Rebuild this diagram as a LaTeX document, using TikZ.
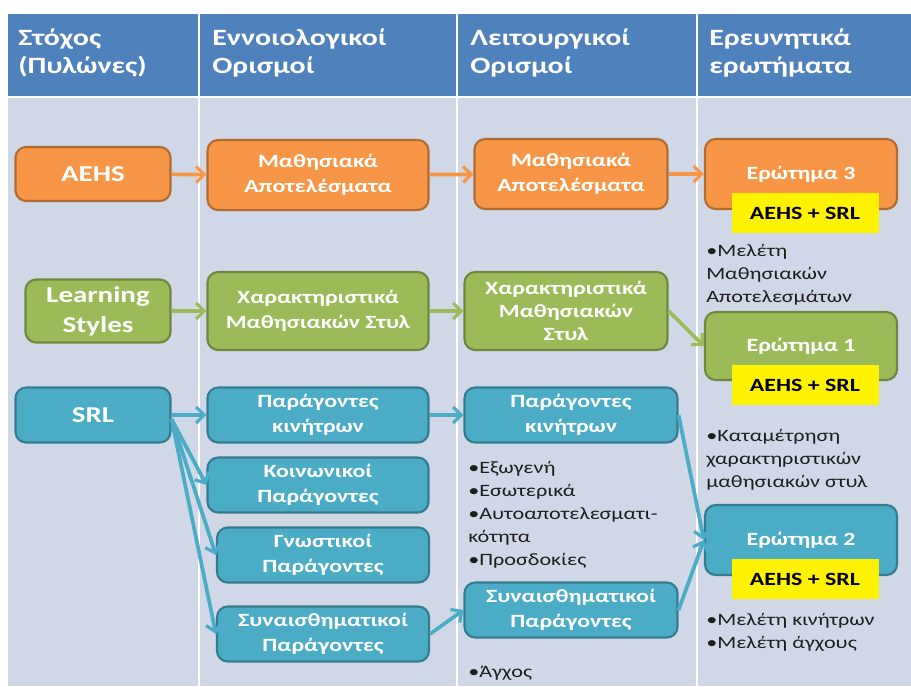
\documentclass[tikz,border=0pt]{standalone}
\usepackage{fontspec}
\setmainfont{Carlito}[FakeStretch=1.28]
\usepackage{tikz}
\usetikzlibrary{arrows.meta}
\definecolor{hdrblue}{RGB}{79,129,189}
\definecolor{bodybg}{RGB}{208,216,232}
\definecolor{aorange}{RGB}{247,150,70}
\definecolor{agreen}{RGB}{155,187,89}
\definecolor{ablue}{RGB}{75,172,198}
\definecolor{txtdark}{RGB}{30,30,30}
\newcommand{\boxfont}{\bfseries\fontsize{14}{18.5}\selectfont}
\newcommand{\bigboxfont}{\bfseries\fontsize{17}{22.5}\selectfont}
\newcommand{\hdrfont}{\bfseries\fontsize{17.5}{21}\selectfont}
\newcommand{\notefont}{\fontsize{13}{17.25}\selectfont}

\begin{document}
\begin{tikzpicture}[x=0.75pt,y=-0.75pt,
  bw/.style={minimum width=#1*0.75pt},
  bh/.style={minimum height=#1*0.75pt},
  box/.style={draw,line width=1.6pt,rounded corners=8pt,align=center,
    text=white,font=\boxfont,inner sep=0pt},
  obox/.style={box,fill=aorange,draw=aorange!72!black},
  gbox/.style={box,fill=agreen,draw=agreen!72!black},
  bbox/.style={box,fill=ablue,draw=ablue!72!black},
  ybox/.style={fill=yellow,text=black,font=\boxfont,inner sep=0pt,
    minimum width=147*0.75pt,minimum height=40*0.75pt},
  note/.style={anchor=north west,align=left,text=txtdark,font=\notefont,inner sep=0pt},
  flow/.style={line width=2.8pt,-{Straight Barb[length=6pt,width=12pt,line width=2.4pt]}}]
  \useasboundingbox (0,0) rectangle (911,686);
  % ---- background ----
  \fill[white] (0,0) rectangle (911,686);
  \fill[hdrblue] (8,14) rectangle (911,97);
  \fill[bodybg] (8,97) rectangle (911,686);
  \draw[white,line width=1.2pt] (8,97) -- (911,97);
  \foreach \x in {199,457,697}{\draw[white,line width=1.2pt] (\x,14) -- (\x,686);}

  % ---- header ----
  \foreach \x/\lbl in {18/{Στόχος\\(Πυλώνες)},
                       212/{Εννοιολογικοί\\Ορισμοί},
                       470/{Λειτουργικοί\\Ορισμοί},
                       709/{Ερευνητικά\\ερωτήματα}}{
    \node[anchor=north west,align=left,text=white,font=\hdrfont,inner sep=0pt] at (\x,29) {\lbl};
  }

  % ---- notes ----
  \node[note] (n3) at (706,244) {•Μελέτη\\Μαθησιακών\\Αποτελεσμάτων};
  \node[note] (n1) at (706,429) {•Καταμέτρηση\\χαρακτηριστικών\\μαθησιακών στυλ};
  \node[note] (n2) at (706,613) {•Μελέτη κινήτρων\\•Μελέτη άγχους};
  \node[note] (nk) at (468,461) {•Εξωγενή\\•Εσωτερικά\\•Αυτοαποτελεσματι-\\κότητα\\•Προσδοκίες};
  \node[note] (na) at (468,666) {•Άγχος};

  % ---- row 1: AEHS ----
  \node[obox,bw=155,bh=54,font=\bigboxfont] (aehs) at (93,174) {AEHS};
  \node[obox,bw=221,bh=70] (mo2) at (318,175) {Μαθησιακά\\Αποτελέσματα};
  \node[obox,bw=193,bh=70] (mo3) at (571,174) {Μαθησιακά\\Αποτελέσματα};
  \node[obox,bw=192,bh=70] (q3) at (801,174) {Ερώτημα 3};

  % ---- row 2: Learning Styles ----
  \node[gbox,bw=145,bh=63,font=\bigboxfont] (ls) at (98,311) {Learning\\Styles};
  \node[gbox,bw=221,bh=78] (ls2) at (318,311) {Χαρακτηριστικά\\Μαθησιακών Στυλ};
  \node[gbox,bw=203,bh=78,font=\bfseries\fontsize{14}{17.25}\selectfont] (ls3) at (566,311) {Χαρακτηριστικά\\Μαθησιακών\\Στυλ};
  \node[gbox,bw=192,bh=68] (q1) at (801,346) {Ερώτημα 1};

  % ---- row 3: SRL ----
  \node[bbox,bw=155,bh=55,font=\bigboxfont] (srl) at (93,415) {SRL};
  \node[bbox,bw=221,bh=55] (mk2) at (318,415) {Παράγοντες\\κινήτρων};
  \node[bbox,bw=221,bh=55] (kp) at (318,485) {Κοινωνικοί\\Παράγοντες};
  \node[bbox,bw=212,bh=55] (gp) at (323,555) {Γνωστικοί\\Παράγοντες};
  \node[bbox,bw=212,bh=55] (sp) at (323,634) {Συναισθηματικοί\\Παράγοντες};
  \node[bbox,bw=213,bh=55] (mk3) at (571,415) {Παράγοντες\\κινήτρων};
  \node[bbox,bw=213,bh=55] (sf3) at (571,610) {Συναισθηματικοί\\Παράγοντες};
  \node[bbox,bw=192,bh=70] (q2) at (801,540) {Ερώτημα 2};

  % ---- yellow tags ----
  \node[ybox] (y3) at (805,213) {AEHS + SRL};
  \node[ybox] (y1) at (805,385) {AEHS + SRL};
  \node[ybox] (y2) at (805,579) {AEHS + SRL};

  % ---- connectors ----
  \draw[flow,aorange] (aehs) -- (mo2);
  \draw[flow,aorange] (mo2) -- (mo3);
  \draw[flow,aorange] (mo3) -- (q3);
  \draw[flow,agreen] (ls) -- (ls2);
  \draw[flow,agreen] (ls2) -- (ls3);
  \draw[flow,agreen] (ls3.east) -- (q1.west);
  \draw[flow,ablue] (srl) -- (mk2);
  \foreach \t in {kp,gp,sp}{\draw[flow,ablue] (srl.-3) -- (\t.west);}
  \draw[flow,ablue] (mk2) -- (mk3);
  \draw[flow,ablue] (sp.east) -- (sf3.west);
  \draw[flow,ablue] (mk3.east) -- (q2.west);
  \draw[flow,ablue] (sf3.east) -- (q2.west);
\end{tikzpicture}
\end{document}
